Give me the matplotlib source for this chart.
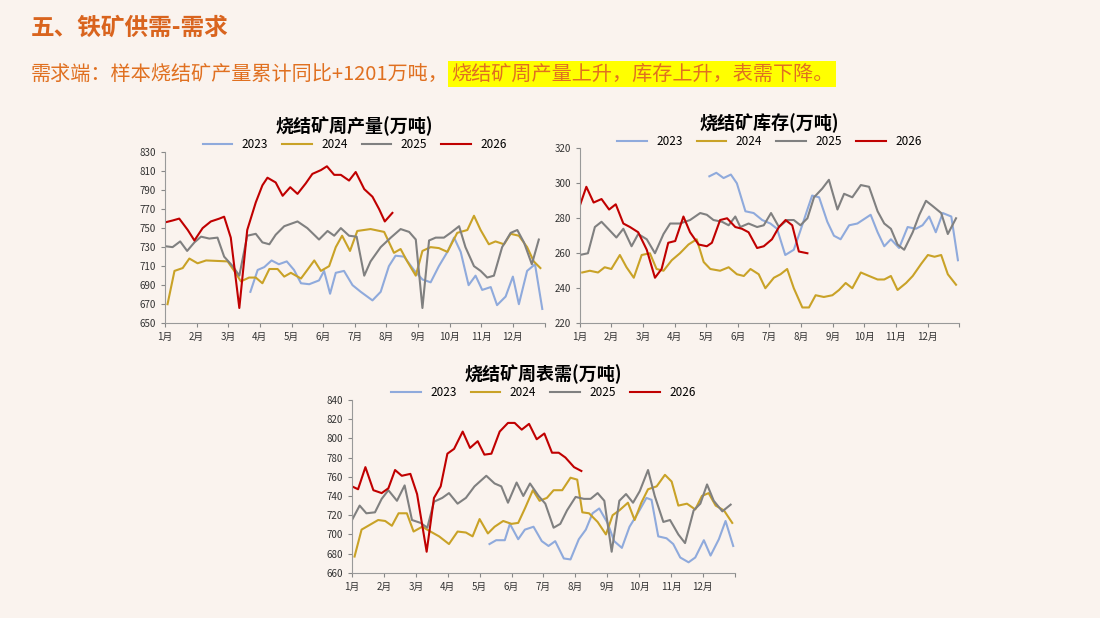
import matplotlib
matplotlib.use("Agg")
import matplotlib.pyplot as plt
import numpy as np

plt.rcParams['font.family'] = ['Noto Sans CJK SC', 'DejaVu Sans']

months = ['%d月' % i for i in range(1, 13)]
years = ['2023', '2024', '2025', '2026']
colors = ['#8FAADC', '#C9A227', '#808080', '#C00000']

# x in month units (0 = 1月), y values
prod_2023 = [(2.7,683),(2.93,706),(3.14,709),(3.37,716),(3.6,712),(3.85,715),(4.08,706),(4.3,692),(4.56,691),(4.87,695),(5.03,705),(5.22,681),(5.4,703),(5.66,705),(5.93,690),(6.19,683),(6.56,674),(6.82,683),(7.08,710),(7.29,721),(7.56,720),(7.87,706),(8.14,696),(8.4,693),(8.66,710),(8.93,725),(9.14,740),(9.35,725),(9.6,690),(9.82,700),(10.03,685),(10.3,688),(10.5,669),(10.77,678),(11.0,699),(11.19,670),(11.45,705),(11.7,712),(11.93,665)]
prod_2024 = [(0.08,670),(0.3,705),(0.56,708),(0.77,718),(1.03,713),(1.3,716),(1.98,715),(2.19,705),(2.4,694),(2.66,698),(2.87,698),(3.08,692),(3.3,707),(3.56,707),(3.77,699),(3.98,703),(4.3,697),(4.5,706),(4.72,716),(4.93,705),(5.19,710),(5.4,730),(5.6,742),(5.85,726),(6.08,747),(6.5,749),(6.93,746),(7.24,724),(7.45,728),(7.66,715),(7.93,700),(8.14,726),(8.4,730),(8.66,729),(8.93,725),(9.24,745),(9.56,748),(9.77,763),(9.98,748),(10.24,733),(10.45,736),(10.72,733),(10.93,744),(11.19,742),(11.45,730),(11.66,715),(11.87,708)]
prod_2025 = [(0,731),(0.24,730),(0.48,736),(0.7,726),(0.93,735),(1.14,741),(1.4,739),(1.66,740),(1.87,720),(2.14,710),(2.35,700),(2.6,742),(2.87,744),(3.08,735),(3.3,733),(3.5,743),(3.77,752),(4.19,757),(4.5,750),(4.87,738),(5.14,747),(5.35,742),(5.56,750),(5.82,742),(6.06,741),(6.3,700),(6.5,715),(6.82,730),(7.14,740),(7.45,749),(7.72,746),(7.93,738),(8.14,666),(8.35,737),(8.56,740),(8.82,740),(9.03,745),(9.3,752),(9.5,730),(9.77,710),(9.98,705),(10.19,698),(10.4,700),(10.66,730),(10.93,745),(11.14,748),(11.35,735),(11.6,712),(11.82,738)]
prod_2026 = [(0,756),(0.24,758),(0.45,760),(0.72,748),(0.93,737),(1.19,750),(1.45,757),(1.72,760),(1.87,762),(2.08,740),(2.35,666),(2.6,748),(2.87,777),(3.08,795),(3.24,803),(3.5,798),(3.72,784),(3.96,793),(4.19,786),(4.45,797),(4.66,807),(4.93,811),(5.12,815),(5.35,806),(5.56,806),(5.82,800),(6.03,809),(6.3,791),(6.56,783),(6.77,770),(6.95,757),(7.19,766)]

inv_2023 = [(4.1,304),(4.32,306),(4.55,303),(4.78,305),(4.97,300),(5.24,284),(5.5,283),(5.77,279),(6.03,277),(6.24,274),(6.5,259),(6.77,262),(6.98,273),(7.2,285),(7.35,293),(7.57,292),(7.83,278),(8.04,270),(8.25,268),(8.52,276),(8.78,277),(9.2,282),(9.42,272),(9.63,264),(9.84,268),(10.1,263),(10.37,275),(10.63,274),(10.84,276),(11.05,281),(11.26,272),(11.48,283),(11.75,281),(11.96,256)]
inv_2024 = [(0.08,249),(0.32,250),(0.58,249),(0.79,252),(1.0,251),(1.27,259),(1.48,252),(1.71,246),(1.96,259),(2.22,260),(2.43,251),(2.65,250),(2.91,256),(3.17,260),(3.44,265),(3.7,268),(3.92,255),(4.13,251),(4.44,250),(4.71,252),(4.97,248),(5.19,247),(5.4,251),(5.66,248),(5.87,240),(6.14,246),(6.35,248),(6.56,251),(6.77,240),(7.04,229),(7.25,229),(7.46,236),(7.72,235),(7.99,236),(8.2,239),(8.41,243),(8.62,240),(8.89,249),(9.15,247),(9.42,245),(9.63,245),(9.84,247),(10.05,239),(10.32,243),(10.53,247),(10.8,254),(11.01,259),(11.22,258),(11.43,259),(11.64,248),(11.9,242)]
inv_2025 = [(0,259),(0.26,260),(0.48,275),(0.69,278),(0.9,274),(1.16,269),(1.38,274),(1.64,264),(1.85,271),(2.12,268),(2.38,260),(2.65,271),(2.86,277),(3.17,277),(3.49,279),(3.81,283),(4.02,282),(4.23,279),(4.5,278),(4.71,276),(4.92,281),(5.08,275),(5.34,277),(5.61,275),(5.82,276),(6.05,283),(6.3,275),(6.56,279),(6.77,279),(6.98,276),(7.2,280),(7.41,292),(7.67,297),(7.88,302),(8.15,285),(8.36,294),(8.62,292),(8.89,299),(9.15,298),(9.42,284),(9.63,277),(9.84,274),(10.05,265),(10.26,262),(10.53,272),(10.74,282),(10.95,290),(11.16,287),(11.43,283),(11.64,271),(11.9,280)]
inv_2026 = [(0,287),(0.21,298),(0.44,289),(0.69,291),(0.93,285),(1.14,288),(1.38,277),(1.59,275),(1.85,272),(2.12,262),(2.38,246),(2.59,251),(2.8,266),(3.02,267),(3.28,281),(3.49,272),(3.76,265),(4.02,264),(4.18,266),(4.44,279),(4.66,280),(4.92,275),(5.13,274),(5.34,272),(5.61,263),(5.82,264),(6.08,268),(6.3,275),(6.51,279),(6.72,276),(6.93,261),(7.2,260)]

dem_2023 = [(4.31,690),(4.52,694),(4.79,694),(4.95,711),(5.21,695),(5.42,705),(5.69,708),(5.95,693),(6.16,688),(6.37,693),(6.64,675),(6.85,674),(7.11,695),(7.33,705),(7.54,722),(7.75,727),(8.01,712),(8.22,693),(8.46,686),(8.7,708),(8.96,722),(9.23,738),(9.39,736),(9.6,698),(9.86,696),(10.07,690),(10.29,676),(10.55,671),(10.76,676),(11.03,694),(11.24,678),(11.5,695),(11.71,714),(11.95,688)]
dem_2024 = [(0.08,677),(0.3,705),(0.56,710),(0.82,715),(1.04,714),(1.25,709),(1.46,722),(1.72,722),(1.93,703),(2.2,708),(2.46,703),(2.73,698),(3.04,690),(3.31,703),(3.57,702),(3.78,698),(4.0,716),(4.26,701),(4.47,708),(4.74,714),(5.0,711),(5.21,712),(5.42,727),(5.67,746),(5.88,735),(6.11,738),(6.32,746),(6.59,746),(6.85,759),(7.06,757),(7.22,723),(7.43,722),(7.7,713),(7.96,700),(8.17,720),(8.38,725),(8.65,733),(8.86,715),(9.07,733),(9.28,747),(9.55,750),(9.81,762),(10.02,755),(10.23,730),(10.5,732),(10.76,726),(10.97,740),(11.18,743),(11.4,730),(11.66,725),(11.92,712)]
dem_2025 = [(0,715),(0.24,730),(0.45,722),(0.72,723),(0.93,737),(1.14,746),(1.41,735),(1.65,751),(1.88,715),(2.15,712),(2.36,707),(2.57,734),(2.83,738),(3.04,743),(3.31,732),(3.57,738),(3.84,750),(4.21,761),(4.47,753),(4.68,750),(4.89,733),(5.16,754),(5.37,740),(5.58,753),(5.85,740),(6.06,732),(6.32,707),(6.53,711),(6.74,725),(7.01,739),(7.27,737),(7.48,737),(7.7,743),(7.91,735),(8.14,682),(8.38,735),(8.59,742),(8.81,733),(9.02,745),(9.28,767),(9.49,740),(9.76,713),(9.97,715),(10.23,700),(10.44,691),(10.71,725),(10.92,732),(11.13,752),(11.34,735),(11.61,724),(11.87,731)]
dem_2026 = [(0,750),(0.19,747),(0.42,770),(0.67,746),(0.93,743),(1.14,748),(1.35,767),(1.56,761),(1.83,763),(2.04,742),(2.2,710),(2.34,682),(2.57,738),(2.78,750),(2.99,784),(3.2,789),(3.47,807),(3.7,790),(3.94,797),(4.15,783),(4.37,784),(4.63,807),(4.89,816),(5.1,816),(5.32,809),(5.55,815),(5.79,799),(6.03,805),(6.27,785),(6.48,785),(6.69,780),(6.96,770),(7.19,766)]

bg = '#FAF3EE'
fig = plt.figure(figsize=(11, 6.18), dpi=100, facecolor=bg)

fig.text(0.028, 0.955, '五、铁矿供需-需求', fontsize=17, fontweight='bold', color='#D9641E', va='center')
t1 = fig.text(0.028, 0.88, '需求端：样本烧结矿产量累计同比+1201万吨，', fontsize=14.5, color='#E07020', va='center')
fig.canvas.draw()
bb = t1.get_window_extent().transformed(fig.transFigure.inverted())
fig.text(bb.x1 + 0.002, 0.88, '烧结矿周产量上升，库存上升，表需下降。', fontsize=14.5, color='#E07020', va='center',
         bbox=dict(facecolor='#FFFF00', edgecolor='none', pad=2))


def draw(rect, title, series, ylim, step):
    ax = fig.add_axes(rect, facecolor=bg)
    for name, data, c in zip(years, series, colors):
        xs = [p[0] for p in data]
        ys = [p[1] for p in data]
        ax.plot(xs, ys, color=c, lw=1.5, label=name)
    ax.set_xlim(0, 12)
    ax.set_ylim(*ylim)
    ax.set_yticks(np.arange(ylim[0], ylim[1] + 1, step))
    ax.set_xticks(np.arange(0, 13))
    ax.set_xticklabels(months + [''])
    ax.tick_params(labelsize=7, length=3, color='#888888', colors='#333333')
    for s in ['top', 'right']:
        ax.spines[s].set_visible(False)
    for s in ['left', 'bottom']:
        ax.spines[s].set_color('#999999')
    ax.set_title(title, fontsize=13, fontweight='bold', pad=14)
    ax.legend(loc='lower center', bbox_to_anchor=(0.5, 0.97), ncol=4, frameon=False,
              fontsize=8.5, handlelength=2.5, columnspacing=1.2, borderpad=0)
    return ax


draw([0.15, 0.477, 0.345, 0.277], '烧结矿周产量(万吨)',
     [prod_2023, prod_2024, prod_2025, prod_2026], (650, 830), 20)
draw([0.527, 0.477, 0.345, 0.283], '烧结矿库存(万吨)',
     [inv_2023, inv_2024, inv_2025, inv_2026], (220, 320), 20)
draw([0.32, 0.073, 0.348, 0.28], '烧结矿周表需(万吨)',
     [dem_2023, dem_2024, dem_2025, dem_2026], (660, 840), 20)

fig.savefig('out.png', dpi=100, facecolor=bg)
